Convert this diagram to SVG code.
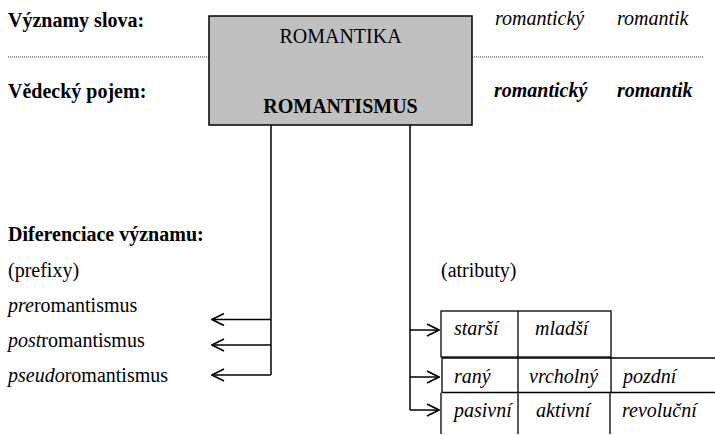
<svg xmlns="http://www.w3.org/2000/svg" width="715" height="435" viewBox="0 0 715 435" font-family="'Liberation Serif', 'Times New Roman', 'DejaVu Serif', serif">
<style>
text{font-family:'Liberation Serif','Times New Roman','DejaVu Serif',serif;font-size:20px;fill:#000}
.b{font-weight:bold}
.i{font-style:italic}
.c{text-anchor:middle}
.ln{stroke:#000;stroke-width:1.5;fill:none}
.dot{stroke:#333;stroke-width:1;stroke-dasharray:1 1;fill:none}
.tb{stroke:#000;stroke-width:1.3;fill:none}
</style>
<defs>
<marker id="ah" viewBox="0 0 14 14" refX="13" refY="7" markerWidth="14" markerHeight="14" markerUnits="userSpaceOnUse" orient="auto">
<path d="M1,1 L13,7 L1,13" fill="none" stroke="#000" stroke-width="1.6"/>
</marker>
</defs>
<rect width="715" height="435" fill="#fff"/>
<g id="labels">
<text x="8" y="27" class="b">Významy slova:</text>
<text x="8" y="98" class="b">Vědecký pojem:</text>
<text x="495" y="25" class="i">romantický</text>
<text x="617" y="25" class="i">romantik</text>
<text x="494" y="97" class="b i">romantický</text>
<text x="617" y="97" class="b i">romantik</text>
</g>
<g id="dividers">
<line x1="8" y1="57" x2="209" y2="57" class="dot"/>
<line x1="472" y1="57" x2="704" y2="57" class="dot"/>
</g>
<g id="romantika">
<rect x="209" y="16" width="263" height="109" fill="#c0c0c0" stroke="#000" stroke-width="1.5"/>
<text x="340.5" y="43" class="c">ROMANTIKA</text>
<text x="340.5" y="113" class="c b">ROMANTISMUS</text>
</g>
<g id="prefixy">
<text x="8" y="241" class="b">Diferenciace významu:</text>
<text x="8" y="277">(prefixy)</text>
<text x="8" y="312"><tspan class="i">pre</tspan>romantismus</text>
<text x="8" y="347"><tspan class="i">post</tspan>romantismus</text>
<text x="8" y="382"><tspan class="i">pseudo</tspan>romantismus</text>
</g>
<g id="atributy">
<text x="441" y="277">(atributy)</text>
<rect x="441" y="311" width="170" height="46" class="tb"/>
<line x1="518" y1="311" x2="518" y2="357" class="tb"/>
<text x="454" y="335" class="i">starší</text>
<text x="535" y="335" class="i">mladší</text>
<text x="454" y="383" class="i">raný</text>
<text x="529" y="383" class="i">vrcholný</text>
<text x="623" y="383" class="i">pozdní</text>
<rect x="441" y="393" width="274" height="42" fill="#fff"/>
<line x1="442" y1="358" x2="715" y2="358" class="tb"/>
<line x1="442" y1="392.5" x2="715" y2="392.5" class="tb"/>
<line x1="442" y1="358" x2="442" y2="392.5" class="tb"/>
<line x1="518" y1="358" x2="518" y2="392.5" class="tb"/>
<line x1="611" y1="358" x2="611" y2="392.5" class="tb"/>
<line x1="441" y1="392.5" x2="441" y2="434" class="tb"/>
<line x1="518" y1="392.5" x2="518" y2="434" class="tb"/>
<line x1="610" y1="392.5" x2="610" y2="434" class="tb"/>
<text x="454" y="417" class="i">pasivní</text>
<text x="536" y="417" class="i">aktivní</text>
<text x="622" y="417" class="i">revoluční</text>
</g>
<g id="connectors">
<path d="M271,125 V375" class="ln"/>
<line x1="271" y1="319.5" x2="212" y2="319.5" class="ln" marker-end="url(#ah)"/>
<line x1="271" y1="345" x2="212" y2="345" class="ln" marker-end="url(#ah)"/>
<line x1="271" y1="375" x2="212" y2="375" class="ln" marker-end="url(#ah)"/>
<path d="M410,125 V410" class="ln"/>
<line x1="410" y1="330" x2="439" y2="330" class="ln" marker-end="url(#ah)"/>
<line x1="410" y1="377" x2="439" y2="377" class="ln" marker-end="url(#ah)"/>
<line x1="410" y1="410" x2="439" y2="410" class="ln" marker-end="url(#ah)"/>
</g>
</svg>
